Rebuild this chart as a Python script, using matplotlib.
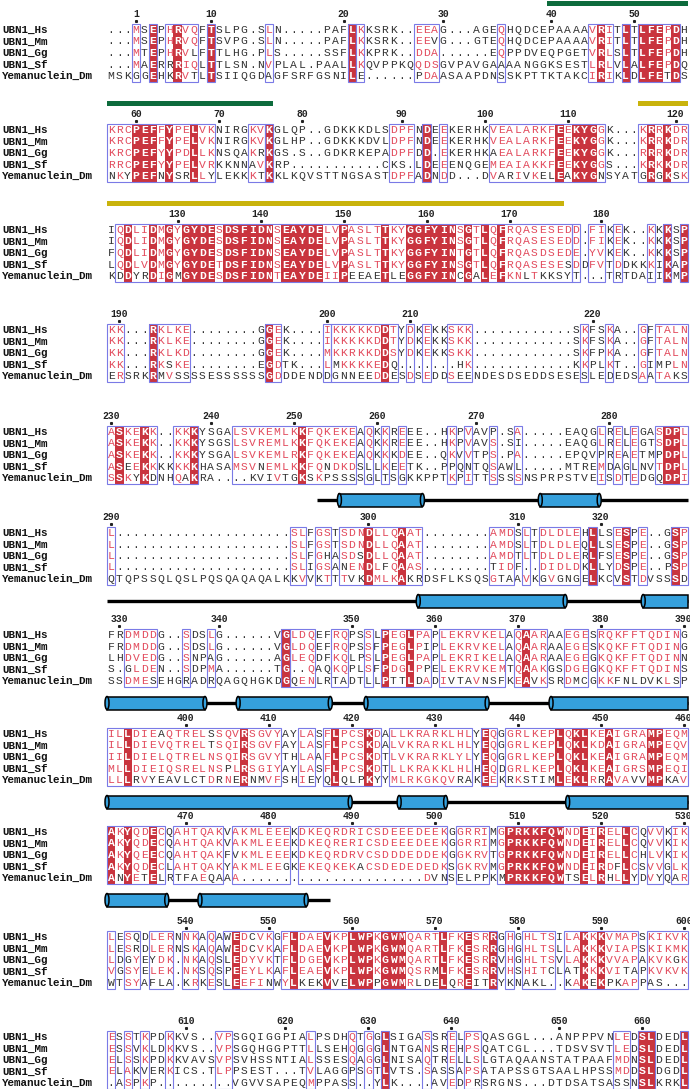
import matplotlib
matplotlib.use("Agg")
import matplotlib.pyplot as plt
from matplotlib.patches import Rectangle, Ellipse

# --- alignment data (70 columns per block) ---
names = ["UBN1_Hs", "UBN1_Mm", "UBN1_Gg", "UBN1_Sf", "Yemanuclein_Dm"]

hs = [
    "...MSEPHRVQFTSLPG.SLN.....PAFLKKSRK..EEAG...AGEQHQDCEPAAAAVRITLTLFEPDH",
    "KRCPEFFYPELVKNIRGKVKGLQP..GDKKKDLSDPFNDEEKERHKVEALARKFEEKYGGK...KRRKDR",
    "IQDLIDMGYGYDESDSFIDNSEAYDELVPASLTTKYGGFYINSGTLQFRQASESEDD.FIKEK..KKKSP",
    "KK...RKLKE........GGEK....IKKKKKDDTYDKEKKSKK............SKFSKA..GFTALN",
    "ASKEKK..KKKYSGALSVKEMLKKFQKEKEAQKKREEE..HKPVAVP.SA.....EAQGLRELEGASDPL",
    "L.....................SLFGSTSDNDLLQAAT........AMDSLTDLDLEHLLSESPE..GSP",
    "FRDMDDG..SDSLG......VGLDQEFRQPSSLPEGLPAPLEKRVKELAQAARAAEGESRQKFFTQDING",
    "ILLDIEAQTRELSSQVRSGVYAYLASFLPCSKDALLKRARKLHLYEQGGRLKEPLQKLKEAIGRAMPEQM",
    "AKYQDECQAHTQAKVAKMLEEEKDKEQRDRICSDEEEDEEKGGRRIMGPRKKFQWNDEIRELLCQVVKIK",
    "LESQDLERNNKAQAWEDCVKGFLDAEVKPLWPKGWMQARTLFKESRRGHGHLTSILAKKKVMAPSKIKVK",
    "ESSTKPDKKVS..VPSGQIGGPIALPSDHQTGGLSIGASSRELPSQASGGL...ANPPPVNLEDSLDEDL",
]
mm = [
    "...MSEPHRVQFTSVPG.SLN.....PAFLKKSRK..EEVG...GTEQHQDCEPAAAAVRITLTLFEPDH",
    "KRCPEFFYPELVKNIRGKVKGLHP..GDKKKDVLDPFNDEEKERHKVEALARKFEEKYGGK...KRRKDR",
    "IQDLIDMGYGYDESDSFIDNSEAYDELVPASLTTKYGGFYINSGTLQFRQASESEDD.FIKEK..KKKSP",
    "KK...RKLKE........GGEK....IKKKKKDDTYDKEKKSKK............SKFSKA..GFTALN",
    "ASKEKK..KKKYSGSLSVREMLKKFQKEKEAQKKREEE..HKPVAVS.SI.....EAQGLRELEGTSDPL",
    "L.....................SLFGSTSDNDLLQAAT........AMDSLTDLDLEQLLSESPE..GSP",
    "FRDMDDG..SDSLG......VGLDQEFRQPSSFPEGLPIPLEKRVKELAQAARAAEGESKQKFFTQDING",
    "ILLDIEVQTRELTSQIRSGVFAYLASFLPCSKDALVKRARKLHLYEQGGRLKEPLQKLKDAIGRAMPEQV",
    "AKYQDECQAHTQAKVAKMLEEEKDKEQRERICSDEEEDEEKGGRRIMGPRKKFQWNDEIRELLCQVVKIK",
    "LESRDLERNSKAQAWEDCVKAFLDAEVKPLWPKGWMQARTLFKESRRGHGHLTSLLAKKKVIAPSKIKMK",
    "ESSVKLDKKVS..VPSGQHGGPTTLLSEHQGGGLNTGANSREHPSQATCGL...TDSVSVTLEDSLDEDL",
]
gg = [
    "...MTEPHRVLFTTLHG.PLS.....SSFLKKPRK..DDA......EQPPDVEQPGETVRLSLTLFEPDH",
    "KRCPEFYYPDLLKNSQAKRKGS.S..GDKRKEPADPFDD.EKERHKAEALARKFEEKYGGK...RRRKDR",
    "FQDLIDMGYGYDESDSFIDNSEAYDELVPASLTTKYGGFYINTGTLQFRQASDSEDE.YVKEK..KKKSP",
    "KK...RKLKD........GGEK....MKKRKKDDSYDKEKKSKK............SKFPKA..GFTALN",
    "ASKEKK..KKKYSGALSVKEMLRKFQKEKEAQKKKDEE..QKVVTPS.PA.....EPQVPREAETMPDPL",
    "L.....................SLFGHASDSDLLQAAT........AMDTLTDLDLERLFSESPE..GSP",
    "LHDVEDG..SNPAG......AGLEQDFKQLPSLPEGLPAPLEKRIKELAQAARAAEGEGKQKFFTQDINN",
    "IILDIELQTRELNSQIRSGVYTHLAAFLPCSKDTLVKRARKLYLYEQGGRLKEPLQKLKEAIGRAMPEQM",
    "AKYQEECQAHTQAKFVKMLEEEKDKEQRDRVCSDDDEDDEKGGKRVTGPRKKFQWNDEIRELLCHLVKIK",
    "LDGYEYDK.NKAQSLEDYVKTFLDGEVKPLWPKGWMQARTLFKESRRVHGHLTSVLAKKKVVAPAKVKGK",
    "ELSSKPDKKVAVSVPSVHSSNTIALSSESQAGGLNISAQTRELLSLGTAQAANSTATPAAFMDNSLDEDL",
]
sf = [
    "...MAERRRIQLTTLSN.NVPLAL.PAALLKQVPPKQQDSGVPAVGAAAANGGKSESTLRLVLALFEPDQ",
    "RRCPEFYYPELVRKKNNAVKRP...........CKS.LDEEENQGEMEAIAKKFEEKYGGS...KRKKDR",
    "LQDLVDMGYGYDETDSFIDNSEAYDELVPASLTTKYGGFYINSGTLQFRQASESESDDFVTDDKKKIKAP",
    "KK...RKSKE........EGDTK...LMKKKKEDQ.......HK............KKPLKT..GIMPLN",
    "ASEEKKKKKKKHASAMSVNEMLKKFQNDKDSLLKEETK..PPQNTQSAWL.....MTREMDAGLNVTDPL",
    "L.....................SLIGSANENDLFQAAS........TIDF..DIDLDKLLYDSPE..PSP",
    "S.GLDEN..SDPMA......TG..QAQKQPLSFPDGLPPELEKRVKEMTQAAKGSDGEGKQKFFTQDINS",
    "MLLDIEIQSRELNSPLRSGIYAYLASFLPCSKDTLLKRAKKLHLHEQDGRLKEPLQKLKEAIGRSMPEQI",
    "AKYQDECLAHTQAKYAKMLEEGKEKEQKEKACSDEDEDEDKSGKRVMGPRKKFQWNDEIRDFLCSVVGLK",
    "VGSYELEK.NKSQSPEEYLKAFLEAEVKPLWPKGWMQSRMLFKESRRVHSHITCLATKKKVITAPKVKVK",
    "ELAKVERKICS.TLPPSEST...TVLAGGPSGTLVTS.SASSAPSATAPSSGTSAALHPSSMDDSLDGDL",
]
ye = [
    "MSKGGEHKRVTLTSIIQGDAGFSRFGSNILE......PDAASAAPDNSSKPTTKTAKCIRIKLDLFETDS",
    "NKYPEFNYSRLLYLEKKKTKKLKQVSTTNGSASTDPFADNDD...DVARIVKELEAKYGNSYATGRGKSK",
    "KDDYRDIGMGYDESDSFIDNTEAYDEIIPEEAETLEGGFYINCGALEFKNLTKKSYT...TRTDAIIKMP",
    "ERSRKRMVSSSSESSSSSSGDDDENDDGNNEEDDESDSEDDSEENDESDSEDDSESESLEDEDSAATAKS",
    "SSKYKDNHQAKRA....KVIVTGKSKPSSSSGLTSGKKPPTKPITTSSSSNSPRPSTVEISDTEDGQDPI",
    "QTQPSSQLQSLPQSQAQAQALKKVVKTTTVKDMLKAKRDSFLKSQSGTAAVKGVGNGELKCVSTDVSSSD",
    "SSDMESEHGRADRQAGQHGKDGQENLRTADTLLPTTLDADIVTAVNSFKEAVKSRDMCGKKFNLDVKLSP",
    "LLLRVYEAVLCTDRNERNMVFSHIEYQLQLPKYYMLRKGKQVRAKEEKRKSTIMLEKLRRAVAVVMPKAV",
    "ANYETELRTFAEQAAA......................DVNSELPPKMPRKKFQWTSELRHLLYDVYQAR",
    "WTSYAFLA.KRKESLEEFINWYLKEKVVELWPPGWMRLDELQREITRYKNAKL..KAKEKPKAPPAS...",
    ".ASPKP.........VGVVSAPEQMPPASS..YLK....AVEDPRSRGNS...DTDSATSASSNSLKRKL",
]

# framed (similar) column runs per block, 1-based inclusive
frames = [
    [(4, 4), (6, 6), (8, 11), (13, 13), (20, 20), (30, 30), (31, 31), (38, 40), (48, 48), (59, 61), (63, 63), (65, 69)],
    [(1, 13), (18, 19), (20, 20), (35, 37), (39, 39), (41, 41), (47, 60), (65, 70)],
    [(2, 56), (57, 57), (59, 60), (62, 62), (66, 66), (68, 68), (70, 70)],
    [(1, 2), (6, 6), (7, 10), (20, 21), (27, 27), (28, 35), (37, 37), (39, 39), (42, 44), (58, 58), (61, 61), (65, 65), (67, 70)],
    [(1, 6), (9, 11), (16, 30), (32, 32), (34, 34), (36, 36), (42, 42), (44, 44), (47, 47), (50, 50), (60, 60), (62, 62), (64, 64), (67, 70)],
    [(1, 1), (23, 24), (26, 27), (29, 38), (47, 49), (51, 51), (53, 57), (59, 59), (62, 63), (65, 65), (69, 70)],
    [(3, 6), (10, 10), (13, 13), (22, 22), (23, 25), (28, 29), (32, 32), (34, 39), (41, 48), (50, 53), (56, 58), (60, 69)],
    [(1, 21), (24, 25), (27, 33), (35, 44), (46, 47), (49, 70)],
    [(1, 7), (9, 14), (16, 22), (24, 41), (43, 46), (48, 64), (66, 67), (69, 70)],
    [(1, 1), (3, 4), (6, 8), (10, 11), (13, 13), (15, 20), (22, 47), (49, 49), (51, 54), (56, 64), (66, 70)],
    [(1, 1), (3, 3), (5, 5), (8, 8), (14, 15), (25, 25), (30, 30), (32, 32), (34, 34), (39, 39), (42, 42), (44, 45), (62, 63), (65, 66), (70, 70)],
]

# domain bars above the ruler, in UBN1_Hs residue numbers
domains = [(40, 76, "#0d6b3c"), (116, 176, "#c9b30c")]

# secondary structure below the blocks (alignment column units)
coils = {4: (25.3, 70), 5: (0, 70), 6: (0, 70), 7: (0, 70), 8: (0, 26.9)}
helices = {
    4: [(28.0, 38.0), (52.2, 59.3)],
    5: [(37.5, 55.2), (64.6, 70)],
    6: [(0, 11.8), (15.8, 26.9), (31.2, 45.8), (53.5, 70)],
    7: [(0, 29.3), (35.2, 40.8), (55.5, 70)],
    8: [(0, 7.2), (11.2, 24.0)],
}

# --- layout ---
W, H = 690, 1089
x0, cw, rh = 107.0, 8.3, 11.5
row1_y = [30, 130, 230, 330, 432, 533, 635, 734, 832, 937, 1037]

red = "#c9343e"
red_txt = "#e24a5c"
blue = "#7a7ae6"
dark = "#333333"
mono = "Liberation Mono"
fs = 8.2

groups = ["ILVM", "FYW", "KR", "DE", "NQ", "ST", "AG", "EQ", "DN", "KQ", "AS", "HY", "RQ"]


def similar(a, b):
    if a == b:
        return True
    return any(a in g and b in g for g in groups)


fig = plt.figure(figsize=(W / 100, H / 100), dpi=100)
ax = fig.add_axes([0, 0, 1, 1])
ax.set_xlim(0, W)
ax.set_ylim(H, 0)
ax.axis("off")

seqs = [hs, mm, gg, sf, ye]
res = 0
for b in range(len(hs)):
    y1 = row1_y[b]
    top = y1 - rh / 2
    rows = [s[b].ljust(70, ".")[:70] for s in seqs]

    # names
    for r, nm in enumerate(names):
        ax.text(2, y1 + r * rh, nm, family=mono, weight="bold", fontsize=7.8,
                va="center", ha="left", color="#111111")

    # ruler from the first sequence
    res_cols = {}
    for c, ch in enumerate(rows[0]):
        if ch != ".":
            res += 1
            res_cols[res] = c
            if res == 1 or res % 10 == 0:
                xc = x0 + (c + 0.5) * cw
                ax.text(xc, y1 - 16, str(res), family=mono, weight="bold",
                        fontsize=7, ha="center", va="center", color="#222222")
                ax.plot([xc], [y1 - 9.5], marker="s", ms=1.2, color="#222222")

    # domain bars
    for (d0, d1, col) in domains:
        cs = [res_cols[k] for k in res_cols if d0 <= k <= d1]
        if cs:
            ax.add_patch(Rectangle((x0 + min(cs) * cw, y1 - 29), (max(cs) - min(cs) + 1) * cw, 5,
                                   color=col, lw=0))

    framed = set()
    for (s0, s1) in frames[b]:
        framed.update(range(s0 - 1, s1))

    for c in range(70):
        col = [r[c] for r in rows]
        xl = x0 + c * cw
        xc = xl + cw / 2
        ident = col[0] != "." and all(ch == col[0] for ch in col)
        if ident:
            ax.add_patch(Rectangle((xl, top), cw, 5 * rh, color=red, lw=0, zorder=1))
        aa = [ch for ch in col if ch != "."]
        for r, ch in enumerate(col):
            yy = y1 + r * rh
            if ident:
                ax.text(xc, yy, ch, family=mono, weight="bold", fontsize=fs,
                        ha="center", va="center", color="white", zorder=2)
                continue
            color = dark
            if c in framed and ch != ".":
                n_sim = sum(similar(ch, o) for o in aa)
                if n_sim * 2 >= len(aa):
                    color = red_txt
            ax.text(xc, yy, ch, family=mono, fontsize=fs, ha="center",
                    va="center", color=color, zorder=2)

    for (s0, s1) in frames[b]:
        ax.add_patch(Rectangle((x0 + (s0 - 1) * cw, top), (s1 - s0 + 1) * cw, 5 * rh,
                               fill=False, ec=blue, lw=0.8, zorder=3))

    # secondary structure under the block
    ys = y1 + 68
    if b in coils:
        c0, c1 = coils[b]
        ax.plot([x0 + c0 * cw, x0 + c1 * cw], [ys, ys], color="black", lw=2.4,
                solid_capstyle="butt", zorder=2)
    for (h0, h1) in helices.get(b, []):
        xa, xb = x0 + h0 * cw, x0 + h1 * cw
        hh = 13
        ax.add_patch(Rectangle((xa, ys - hh / 2), xb - xa, hh, fc="#35a0dc",
                               ec="black", lw=1.1, zorder=3))
        ax.add_patch(Ellipse((xa, ys), 4, hh, fc="#35a0dc", ec="black", lw=1.1, zorder=4))
        if h1 < 70:
            ax.add_patch(Ellipse((xb, ys), 4, hh, fc="#35a0dc", ec="black", lw=1.1, zorder=4))

fig.savefig("out.png", dpi=100)
